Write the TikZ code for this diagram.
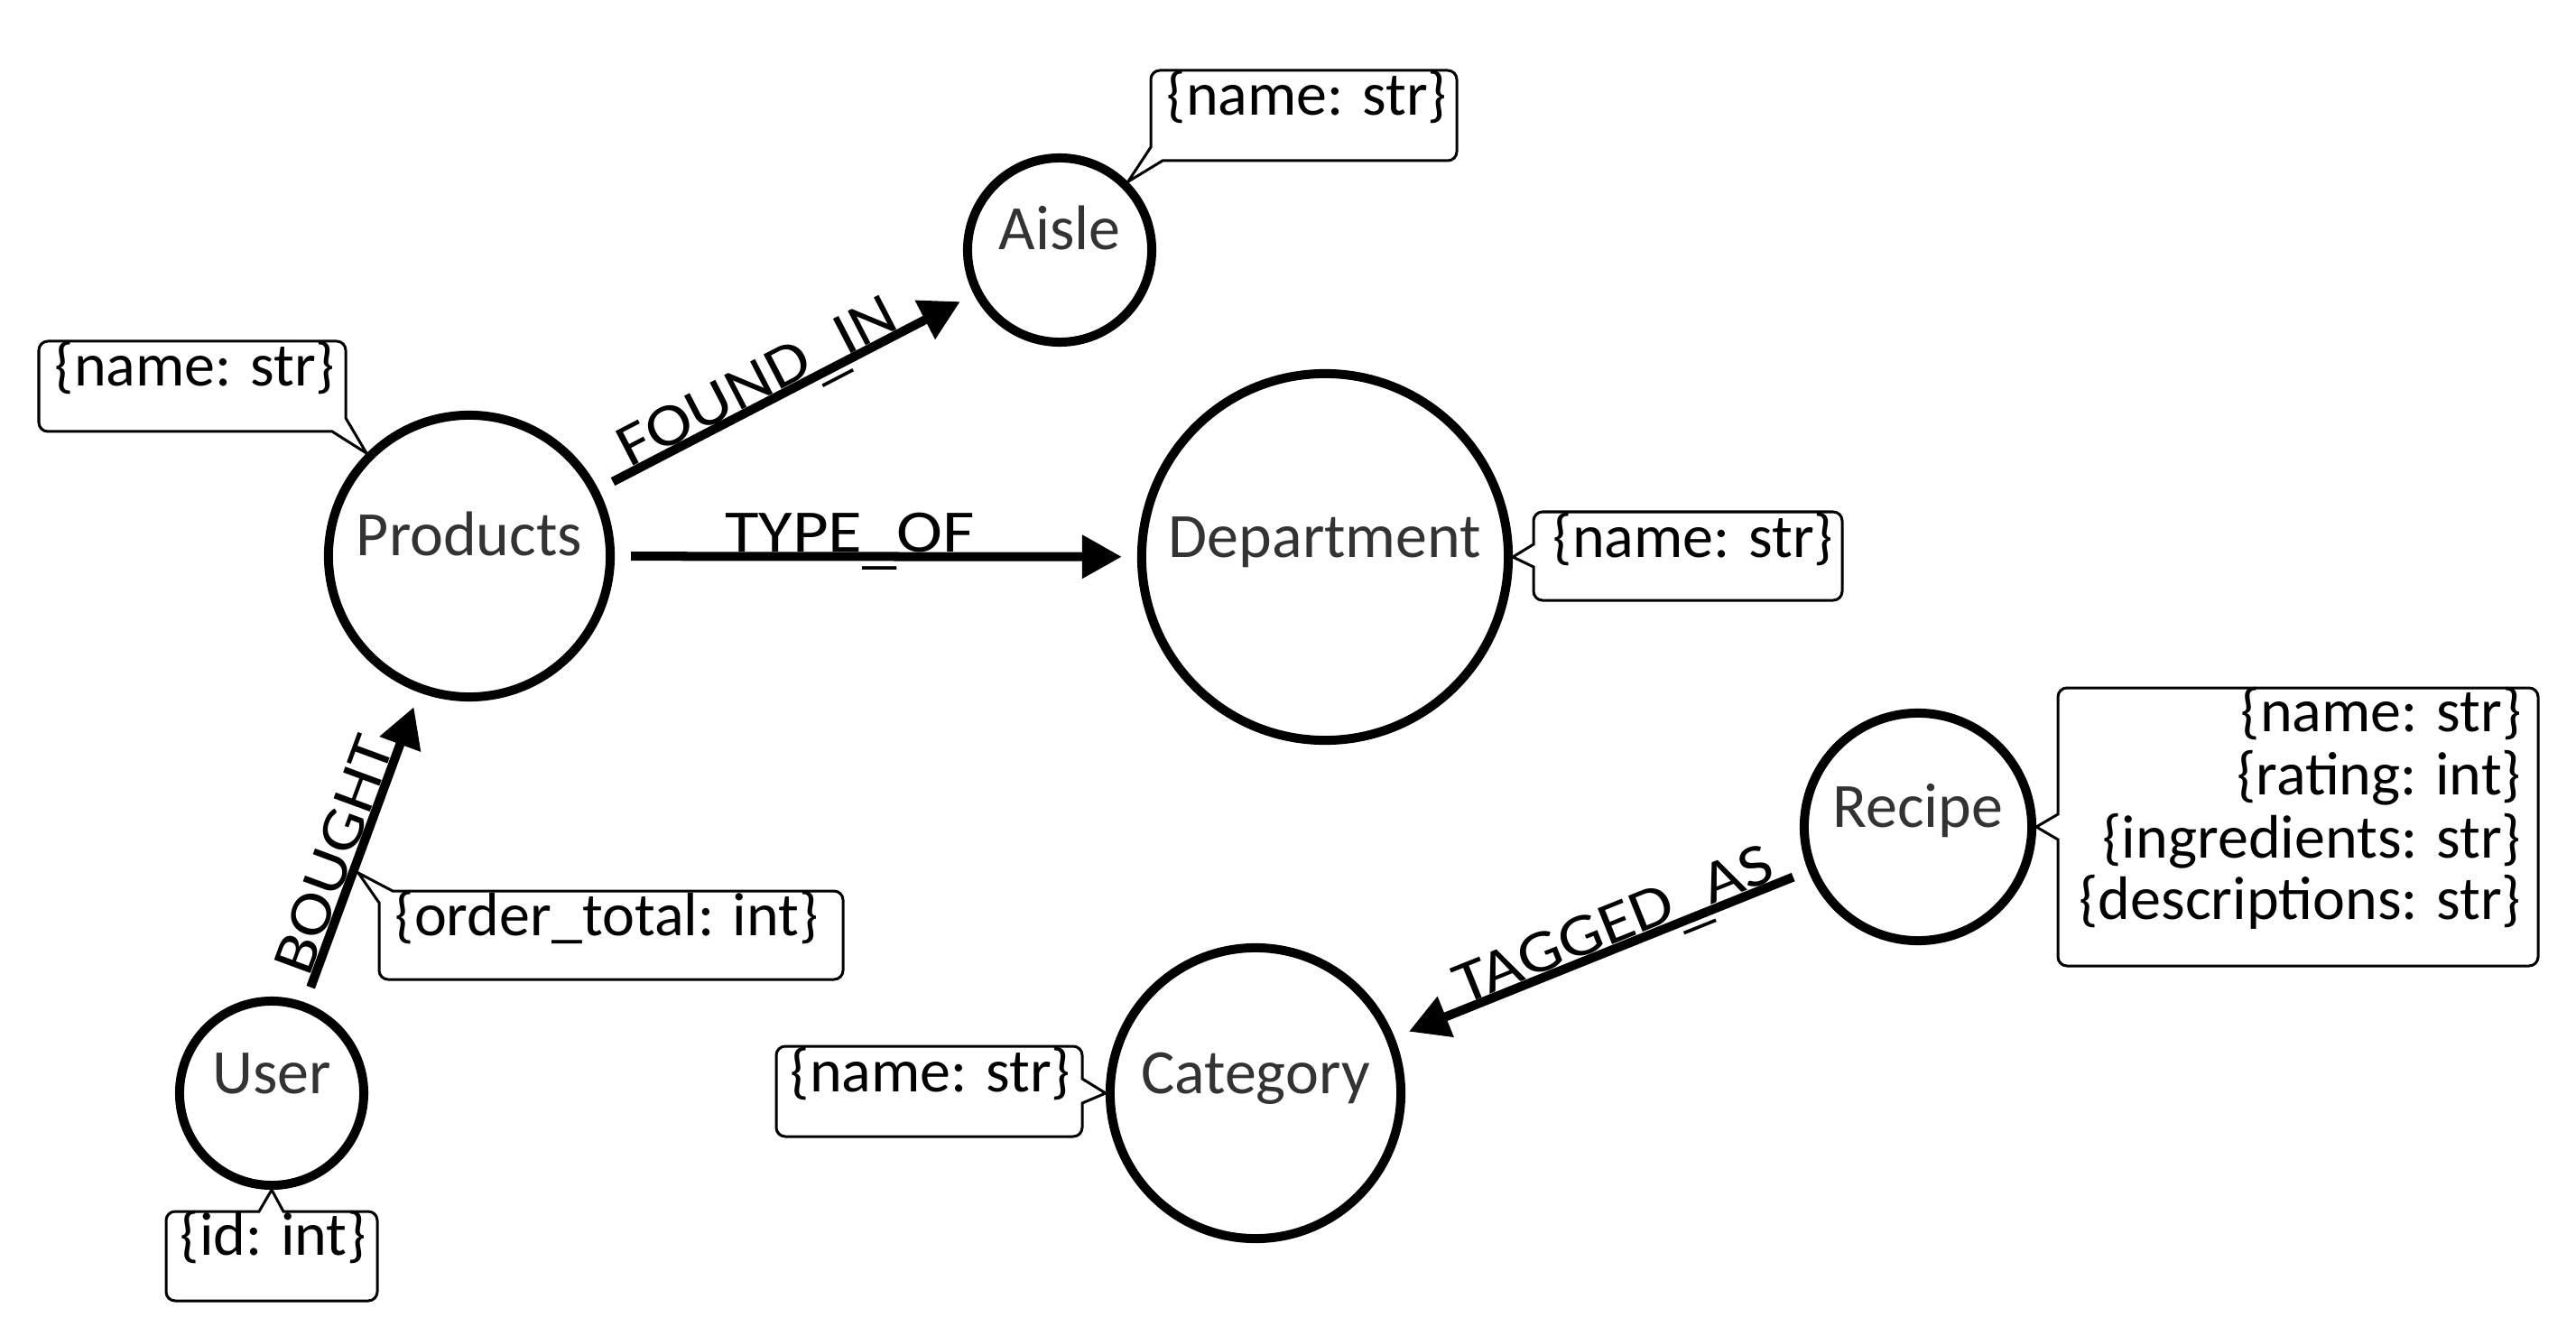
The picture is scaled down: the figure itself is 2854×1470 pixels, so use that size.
\documentclass[tikz,border=0pt]{standalone}
\usepackage{fontspec}
\setmainfont{Carlito}
\newfontfamily\edgefont[FakeStretch=1.15]{Carlito}
\usetikzlibrary{arrows.meta}
\definecolor{lblgray}{HTML}{333333}
\newcommand\lowus{\raisebox{-0.11cm}{\_}}
\begin{document}
\begin{tikzpicture}[x=0.01cm, y=-0.01cm,
  ent/.style={circle, draw, line width=0.1cm, inner sep=0pt},
  lbl/.style={anchor=base, text=lblgray, font=\fontsize{19.9pt}{20pt}\selectfont, inner sep=0pt},
  attr/.style={font=\fontsize{19.35pt}{20pt}\selectfont, inner sep=0pt},
  rel/.style={line width=0.1cm, -{Triangle[length=0.44cm,width=0.46cm]}, shorten <=0.18cm, shorten >=0.17cm},
  rlab/.style={font=\edgefont\fontsize{19pt}{20pt}\selectfont, sloped, anchor=base, inner sep=0pt, yshift=0.05cm, pos=0.45},
  cbox/.style={draw, line width=0.03cm}]

\useasboundingbox (0,0) rectangle (2854,1470);

% entities
\node[ent, minimum size=3.12cm] (prod) at (520,616) {};
\node[ent, minimum size=2.04cm] (aisle) at (1174,277) {};
\node[ent, minimum size=4.06cm] (dept) at (1468,617) {};
\node[ent, minimum size=2.52cm] (rec) at (2125,916) {};
\node[ent, minimum size=2.04cm] (user) at (301,1211) {};
\node[ent, minimum size=3.22cm] (cat) at (1391,1211) {};

\node[lbl] (prodl) at (prod.center) {Products};
\node[lbl] (aislel) at (aisle.center) {Aisle};
\node[lbl] (deptl) at (dept.center) {Department};
\node[lbl] (recl) at (rec.center) {Recipe};
\node[lbl] (userl) at (user.center) {User};
\node[lbl] (catl) at (cat.center) {Category};

% relations
\draw[rel] (prod) -- node[rlab] (foundl) {FOUND\lowus IN} (aisle);
\draw[rel] (prod) -- node[rlab] (typel) {TYPE\lowus OF} (dept);
\draw[rel] (user) -- node[rlab] (boughtl) {BOUGHT} (prod);
\draw[rel] (rec) -- node[rlab] (taggedl) {TAGGED\lowus AS} (cat);

% callout tips
\coordinate (tipP) at (prod.135);
\coordinate (tipA) at (aisle.45);
\coordinate (tipD) at (dept.east);
\coordinate (tipR) at (rec.east);
\coordinate (tipU) at (user.south);
\coordinate (tipC) at (cat.west);
\coordinate (tipO) at (397,967);

% callout boxes
\draw[cbox] (200,478) [rounded corners=0.1cm] -- (43,478) -- (43,378) -- (383,378) -- (383,420)
  [sharp corners] -- (383,463) -- (tipP) -- (368,478) -- cycle;
\draw[cbox] (1450,178) [rounded corners=0.1cm] -- (1614,178) -- (1614,78) -- (1275,78) -- (1275,120)
  [sharp corners] -- (1275,163) -- (tipA) -- (1288,178) -- cycle;
\draw[cbox] (1699,645) [rounded corners=0.1cm] -- (1699,665) -- (2041,665) -- (2041,567) -- (1699,567) -- (1699,585)
  [sharp corners] -- (1699,603) -- (tipD) -- (1699,628) -- cycle;
\draw[cbox] (2280,1000) [rounded corners=0.1cm] -- (2280,1070) -- (2812,1070) -- (2812,762) -- (2280,762) -- (2280,850)
  [sharp corners] -- (2280,902) -- (tipR) -- (2280,930) -- cycle;
\draw[cbox] (420,1040) [rounded corners=0.1cm] -- (420,1085) -- (934,1085) -- (934,987) -- (600,987)
  [sharp corners] -- (435,987) -- (tipO) -- (420,1000) -- cycle;
\draw[cbox] (250,1342) [rounded corners=0.1cm] -- (184,1342) -- (184,1441) -- (418,1441) -- (418,1342) -- (360,1342)
  [sharp corners] -- (314,1342) -- (tipU) -- (287,1342) -- cycle;
\draw[cbox] (1199,1240) [rounded corners=0.1cm] -- (1199,1259) -- (860,1259) -- (860,1159) -- (1199,1159) -- (1199,1180)
  [sharp corners] -- (1199,1195) -- (tipC) -- (1199,1222) -- cycle;

% attribute texts
\node[attr, anchor=base west] (pattr) at (60,428) {\{name: str\}};
\node[attr, anchor=base west] (aattr) at (1292,128) {\{name: str\}};
\node[attr, anchor=base west] (dattr) at (1720,617) {\{name: str\}};
\node[attr, anchor=base east] (r1) at (2794,810) {\{name: str\}};
\node[attr, anchor=base east] (r2) at (2794,880) {\{rating: int\}};
\node[attr, anchor=base east] (r3) at (2794,950) {\{ingredients: str\}};
\node[attr, anchor=base east] (r4) at (2794,1018) {\{descriptions: str\}};
\node[attr, anchor=base west] (oattr) at (437,1036) {\{order\_total: int\}};
\node[attr, anchor=base west] (uattr) at (199,1390) {\{id: int\}};
\node[attr, anchor=base west] (cattr) at (875,1209) {\{name: str\}};
\end{tikzpicture}
\end{document}
